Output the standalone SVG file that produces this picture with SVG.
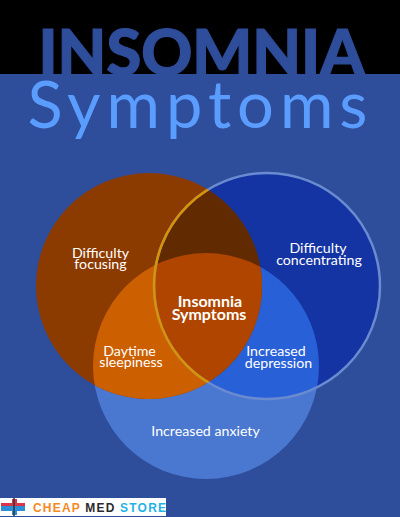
<svg xmlns="http://www.w3.org/2000/svg" width="400" height="517" viewBox="0 0 400 517">
<style>
.t{font-family:"Lato","Noto Sans",sans-serif;fill:#fff;font-size:14.200px;text-anchor:middle}
.b{font-weight:700;font-size:16px}
.logo{font-family:"Liberation Sans",Arial,sans-serif;font-weight:700;font-size:12px}
</style>
<defs>
<clipPath id="cL"><circle cx="149" cy="286" r="113"/></clipPath>
<clipPath id="cR"><circle cx="267" cy="286" r="113"/></clipPath>
<clipPath id="cB"><circle cx="206" cy="366" r="113"/></clipPath>
</defs>
<rect width="400" height="517" fill="#000"/>
<text x="201.500" y="75" text-anchor="middle" textLength="326" lengthAdjust="spacingAndGlyphs" style="font-family:Lato,sans-serif;font-weight:900;font-size:62px;fill:#2e4d9b;stroke:#2e4d9b;stroke-width:1.2px">INSOMNIA</text>
<rect y="74" width="400" height="443" fill="#2e4d9b"/>
<text x="197.500" y="128" text-anchor="middle" textLength="340" style="font-family:Lato,sans-serif;font-weight:400;font-size:65px;fill:#5b9dff">Symptoms</text>
<g id="venn">
<circle id="circle-bottom" cx="206" cy="366" r="113" fill="#4a78d0"/>
<circle id="circle-left" cx="149" cy="286" r="113" fill="#8c3b00"/>
<circle id="circle-right" cx="267" cy="286" r="113" fill="#1434a4"/>
<circle cx="267" cy="286" r="113" fill="#2860d8" clip-path="url(#cB)"/>
<circle cx="149" cy="286" r="113" fill="#cc5f00" clip-path="url(#cB)"/>
<g clip-path="url(#cL)"><circle cx="267" cy="286" r="113" fill="#612a00"/></g>
<g clip-path="url(#cL)"><g clip-path="url(#cR)"><circle cx="206" cy="366" r="113" fill="#b04500"/></g></g>
<circle cx="267" cy="286" r="113" fill="none" stroke="#6a8bd0" stroke-width="2.500"/>
<g clip-path="url(#cL)"><circle cx="267" cy="286" r="113" fill="none" stroke="#d99200" stroke-width="2.500"/></g>
</g>
<g id="node-focusing"><text class="t" x="100.500" y="257.500">Difficulty</text><text class="t" x="100.500" y="269">focusing</text></g>
<g id="node-concentrating"><text class="t" x="318" y="253">Difficulty</text><text class="t" x="319" y="265">concentrating</text></g>
<g id="node-center"><text class="t b" x="210" y="307">Insomnia</text><text class="t b" x="209" y="320">Symptoms</text></g>
<g id="node-sleepiness"><text class="t" x="129.500" y="356">Daytime</text><text class="t" x="131" y="367">sleepiness</text></g>
<g id="node-depression"><text class="t" x="276" y="356">Increased</text><text class="t" x="278.500" y="368">depression</text></g>
<g id="node-anxiety"><text class="t" x="205.500" y="436">Increased anxiety</text></g>
<g id="logo">
<rect x="0" y="498" width="166" height="18" fill="#fff"/>
<path d="M1 503h11v-4h5v4h8v3H1z" fill="#d8344a"/>
<path d="M1 506h24v5h-8v4h-5v-4H1z" fill="#2a8fd8"/>
<path d="M14 498v18" stroke="#333" stroke-width="1.500"/>
<text class="logo" x="33" y="511.500" textLength="133"><tspan fill="#f58a1f">CHEAP </tspan><tspan fill="#2b2b2b">MED </tspan><tspan fill="#1fb3e6">STORE</tspan></text>
</g>
</svg>
